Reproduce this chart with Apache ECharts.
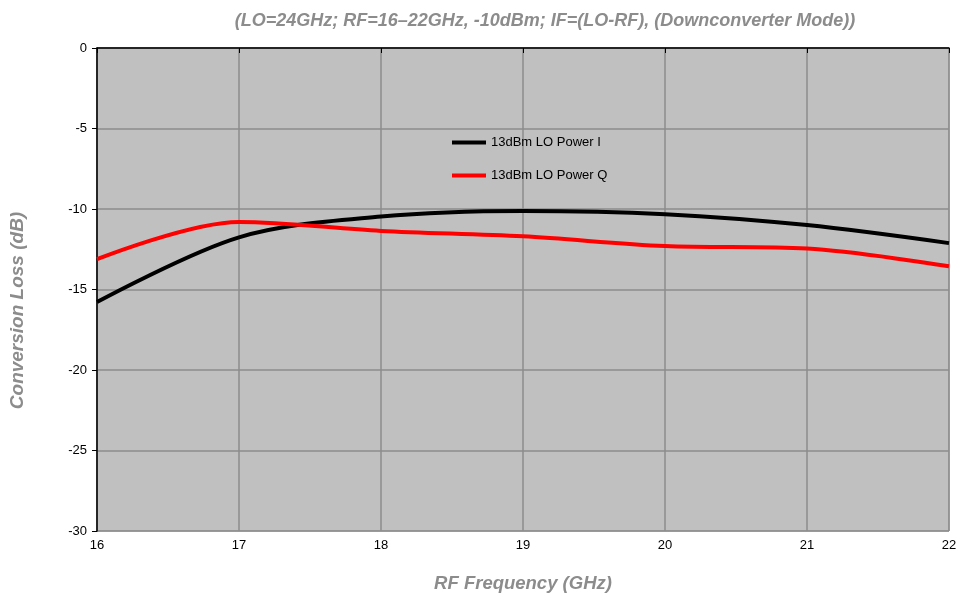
<!DOCTYPE html>
<html>
<head>
<meta charset="utf-8">
<script src="https://cdn.jsdelivr.net/npm/echarts@6/dist/echarts.min.js"></script>
<style>html,body{margin:0;padding:0;background:#fff}#c{width:960px;height:599px}</style>
</head>
<body>
<div id="c"></div>
<script>
const freq = [16, 17, 18, 19, 20, 21, 22];
const powerI = [-15.78, -11.76, -10.47, -10.12, -10.32, -11.0, -12.12];
const powerQ = [-13.12, -10.8, -11.36, -11.7, -12.3, -12.46, -13.56];
const seriesNames = ['13dBm LO Power I', '13dBm LO Power Q'];
const titleText = '(LO=24GHz; RF=16\u201322GHz, -10dBm; IF=(LO-RF), (Downconverter Mode))';

const chart = echarts.init(document.getElementById('c'));
const font = 'Liberation Sans, Arial, sans-serif';
chart.setOption({
  animation: false,
  title: {
    text: titleText, left: 540, top: 7, textAlign: 'center',
    textStyle: {fontFamily: font, fontSize: 18, fontWeight: 'bold', fontStyle: 'italic', color: '#8c8c8c'}
  },
  legend: {
    left: 447, top: 131, orient: 'vertical', itemGap: 20, itemWidth: 34, itemHeight: 4,
    icon: 'rect',
    textStyle: {fontFamily: font, fontSize: 13, color: '#000'},
    data: seriesNames
  },
  grid: {left: 97, right: 11, top: 48, bottom: 68, show: true, backgroundColor: '#c0c0c0', borderColor: '#8c8c8c', borderWidth: 1},
  xAxis: {
    type: 'value', min: 16, max: 22, interval: 1,
    name: 'RF Frequency (GHz)', nameLocation: 'middle', nameGap: 43,
    nameTextStyle: {fontFamily: font, fontSize: 18.5, fontWeight: 'bold', fontStyle: 'italic', color: '#8c8c8c'},
    axisLine: {lineStyle: {color: '#000', width: 1.5}},
    axisTick: {show: true, length: 5, lineStyle: {color: '#000'}},
    axisLabel: {fontFamily: font, fontSize: 13, color: '#000', margin: 8},
    splitLine: {show: true, lineStyle: {color: '#8c8c8c', width: 1.5}}
  },
  yAxis: {
    type: 'value', min: -30, max: 0, interval: 5,
    name: 'Conversion Loss (dB)', nameLocation: 'middle', nameGap: 70,
    nameTextStyle: {fontFamily: font, fontSize: 19, fontWeight: 'bold', fontStyle: 'italic', color: '#8c8c8c', padding: [0, 42, 0, 0]},
    axisLine: {show: true, lineStyle: {color: '#000', width: 1.5}},
    axisTick: {show: true, length: 5, lineStyle: {color: '#000'}},
    axisLabel: {fontFamily: font, fontSize: 13, color: '#000', margin: 10},
    splitLine: {show: true, lineStyle: {color: '#8c8c8c', width: 1.5}}
  },
  series: [
    {name: seriesNames[0], type: 'line', smooth: 0.33, showSymbol: false, symbol: 'none',
     lineStyle: {color: '#000', width: 4}, itemStyle: {color: '#000'},
     data: freq.map((f, i) => [f, powerI[i]])},
    {name: seriesNames[1], type: 'line', smooth: 0.33, showSymbol: false, symbol: 'none',
     lineStyle: {color: '#ff0000', width: 4}, itemStyle: {color: '#ff0000'},
     data: freq.map((f, i) => [f, powerQ[i]])}
  ]
});
</script>
</body>
</html>
